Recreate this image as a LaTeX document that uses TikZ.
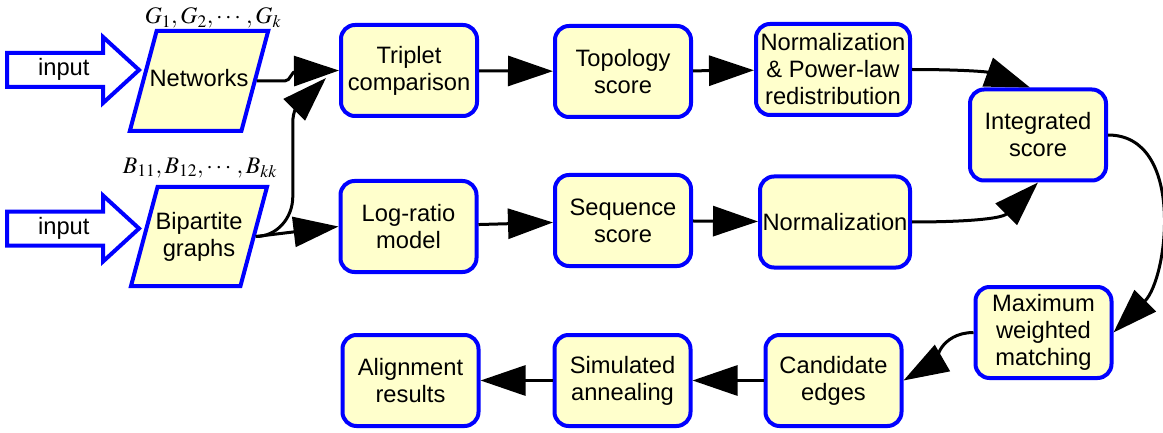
\documentclass[tikz,border=0pt]{standalone}
\usepackage{amsmath}
\usepackage{mathptmx}
\usepackage{fontspec}
\setmainfont{Liberation Sans}
\usetikzlibrary{shapes.geometric,shapes.arrows,arrows.meta}
\definecolor{boxfill}{HTML}{FFFFCC}
\definecolor{boxline}{HTML}{0000FF}

\begin{document}
\begin{tikzpicture}[x=1pt,y=1pt,
    font=\fontsize{23.7}{27}\selectfont,
    box/.style={draw=boxline, fill=boxfill, line width=4pt, rounded corners=14pt,
      minimum width=136pt, minimum height=91pt, align=center, inner sep=2pt},
    data/.style={draw=boxline, fill=boxfill, line width=4pt, trapezium,
      trapezium left angle=75, trapezium right angle=105, trapezium stretches body=true,
      minimum width=136pt, align=center, inner xsep=-7pt},
    inarrow/.style={draw=boxline, fill=white, line width=4pt, single arrow,
      single arrow head extend=16pt, single arrow tip angle=85, minimum height=132pt,
      text height=16pt, text depth=5pt, inner ysep=4.5pt, anchor=tip},
    flow/.style={line width=3pt, -{Triangle[length=45pt,width=30pt]}}]
  \useasboundingbox (0,0) rectangle (1163,432);

  % inputs
  \node[inarrow] (in1) at (142,362) {input};
  \node[inarrow] (in2) at (142,203.5) {input};
  \node[data, text height=17pt, text depth=5pt, inner ysep=39pt] (net) at (199,351) {Networks};
  \node[data, inner ysep=25pt] (bip) at (199,195.5) {Bipartite\\graphs};
  \node[inner sep=0pt] (labG) at (213,414) {$G_1,G_2,\cdots,G_k$};
  \node[inner sep=0pt] (labB) at (200,264) {$B_{11},B_{12},\cdots,B_{kk}$};

  % steps
  \node[box] (trip) at (409,361.5) {Triplet\\comparison};
  \node[box] (topo) at (623,360.5) {Topology\\score};
  \node[box, minimum width=154pt] (normpl) at (833,362.5) {Normalization\\\& Power-law\\redistribution};
  \node[box] (integ) at (1038,297) {Integrated\\score};
  \node[box] (logr) at (408.5,205.5) {Log-ratio\\model};
  \node[box] (seq) at (623,211.5) {Sequence\\score};
  \node[box, minimum width=150pt] (norm) at (835,210) {Normalization};
  \node[box] (mwm) at (1043.5,99.5) {Maximum\\weighted\\matching};
  \node[box] (cand) at (833.5,51.5) {Candidate\\edges};
  \node[box] (sim) at (622.5,51.5) {Simulated\\annealing};
  \node[box] (align) at (410.5,51.5) {Alignment\\results};

  \draw[flow] (net.east) -- ++(28,0) to[out=0,in=180] ++(12,10) -- (trip.west);
  \coordinate (tin) at ([xshift=-13pt,yshift=-7.5pt]trip.west);
  \draw[flow] (bip.east) to[out=0,in=-90] ++(37,40) -- ++(0,74) to[out=90,in=225] (tin);
  \draw[flow] (bip.east) -- (logr.west);
  \foreach \a/\b in {trip/topo, topo/normpl, logr/seq, seq/norm, cand/sim, sim/align}
    \draw[flow] (\a) -- (\b);

  \draw[flow] (normpl.east) to[out=0,in=160] ([xshift=-8pt]integ.north);
  \draw[flow] (norm.east) to[out=0,in=225] (integ.south);
  \draw[flow] (integ.east) to[out=0,in=45] (mwm.east);
  \draw[flow] (mwm.west) to[out=180,in=30] (cand.east);
\end{tikzpicture}
\end{document}
